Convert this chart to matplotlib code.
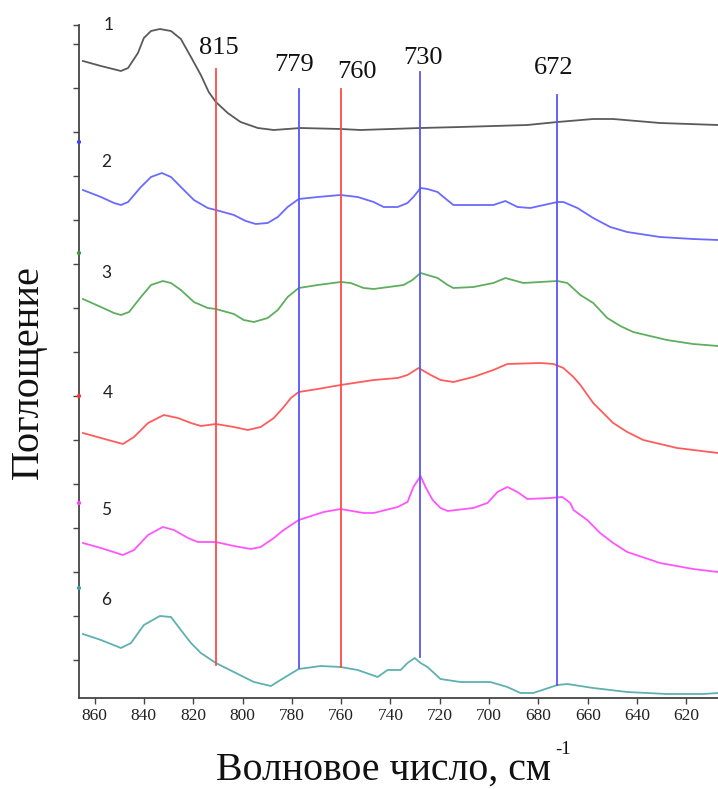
import matplotlib
matplotlib.use("Agg")
import matplotlib.pyplot as plt
import numpy as np

# ---------------- data ----------------
# wavenumber (cm-1) / offset absorbance (a.u.)
w1 = [864.7, 857.4, 849.3, 846.4, 842.4, 840.0, 837.1, 833.5, 829.0, 825.0, 820.9, 816.9,
      813.7, 810.8, 806.0, 800.8, 793.8, 787.3, 776.4, 760.2, 752.1, 727.8, 711.7, 684.5,
      672.3, 657.8, 649.7, 630.7, 607.2]
a1 = [6.37, 6.32, 6.27, 6.30, 6.45, 6.60, 6.67, 6.69, 6.67, 6.59, 6.41, 6.23,
      6.06, 5.96, 5.85, 5.76, 5.70, 5.68, 5.70, 5.69, 5.68, 5.70, 5.71, 5.73,
      5.76, 5.79, 5.79, 5.75, 5.73]

w2 = [864.7, 857.4, 852.1, 849.3, 846.4, 841.2, 837.1, 832.7, 829.0, 825.0, 819.7, 814.1,
      810.8, 803.5, 798.7, 794.6, 789.8, 785.7, 781.7, 777.2, 769.5, 760.2, 753.3, 746.8,
      742.8, 737.1, 733.1, 730.7, 727.8, 725.0, 720.9, 718.5, 714.5, 698.3, 693.4, 688.5,
      683.3, 672.3, 669.9, 664.2, 657.8, 650.9, 644.0, 630.7, 617.3, 607.2]
a2 = [5.08, 5.01, 4.95, 4.93, 4.96, 5.11, 5.21, 5.25, 5.21, 5.11, 4.98, 4.90,
      4.88, 4.83, 4.77, 4.74, 4.75, 4.81, 4.91, 4.99, 5.01, 5.03, 5.01, 4.96,
      4.91, 4.91, 4.95, 5.01, 5.10, 5.09, 5.06, 5.01, 4.93, 4.93, 4.97, 4.91,
      4.90, 4.96, 4.96, 4.90, 4.80, 4.71, 4.66, 4.61, 4.59, 4.58]

w3 = [864.7, 857.4, 852.1, 849.3, 846.0, 841.2, 837.1, 832.3, 829.0, 825.0, 819.7, 814.1,
      810.8, 803.5, 799.5, 795.4, 789.8, 785.7, 781.7, 777.2, 769.5, 760.2, 756.1, 750.9,
      746.8, 734.7, 731.1, 727.8, 720.9, 716.8, 714.5, 706.4, 698.3, 693.4, 686.1, 672.3,
      668.3, 663.0, 657.8, 652.1, 646.8, 641.6, 627.9, 617.3, 607.2]
a3 = [3.99, 3.91, 3.85, 3.83, 3.86, 4.01, 4.13, 4.17, 4.15, 4.08, 3.96, 3.90,
      3.89, 3.84, 3.78, 3.76, 3.80, 3.88, 4.01, 4.10, 4.13, 4.16, 4.15, 4.10,
      4.09, 4.13, 4.18, 4.25, 4.20, 4.13, 4.10, 4.11, 4.15, 4.20, 4.15, 4.17,
      4.15, 4.03, 3.95, 3.80, 3.72, 3.66, 3.58, 3.54, 3.52]

w4 = [864.7, 857.4, 848.5, 844.0, 838.3, 831.9, 826.2, 820.9, 816.9, 810.8, 803.5, 797.9,
      792.6, 787.3, 783.3, 780.4, 777.2, 769.5, 760.2, 746.8, 737.1, 733.1, 728.6, 723.7,
      719.7, 714.5, 706.4, 698.3, 692.6, 679.2, 673.9, 669.9, 665.8, 663.0, 657.8, 649.7,
      644.0, 637.5, 623.8, 607.2]
a4 = [2.65, 2.60, 2.54, 2.61, 2.75, 2.83, 2.80, 2.75, 2.72, 2.74, 2.71, 2.68,
      2.71, 2.80, 2.91, 3.00, 3.06, 3.09, 3.13, 3.18, 3.20, 3.23, 3.30, 3.23,
      3.18, 3.16, 3.21, 3.28, 3.34, 3.35, 3.34, 3.30, 3.21, 3.13, 2.95, 2.75,
      2.66, 2.58, 2.50, 2.45]

w5 = [864.7, 857.4, 848.5, 844.0, 838.3, 832.3, 827.8, 822.1, 818.1, 810.8, 803.5, 796.7,
      792.6, 787.3, 783.3, 777.2, 767.1, 760.2, 750.9, 746.8, 737.1, 733.1, 730.7, 727.8,
      725.8, 722.9, 719.7, 716.8, 706.4, 700.7, 696.6, 692.6, 688.5, 684.5, 675.2, 670.3,
      667.1, 665.8, 660.2, 655.0, 649.7, 644.0, 630.7, 617.3, 607.2]
a5 = [1.55, 1.50, 1.43, 1.48, 1.63, 1.71, 1.68, 1.60, 1.56, 1.56, 1.52, 1.49,
      1.51, 1.60, 1.68, 1.78, 1.86, 1.89, 1.85, 1.85, 1.91, 1.96, 2.11, 2.22,
      2.11, 1.98, 1.90, 1.87, 1.90, 1.95, 2.06, 2.11, 2.06, 1.99, 2.00, 2.01,
      1.95, 1.88, 1.78, 1.65, 1.55, 1.46, 1.35, 1.29, 1.26]

w6 = [864.7, 857.4, 849.3, 845.2, 840.0, 833.5, 829.0, 825.0, 820.9, 816.9, 810.8, 803.5,
      795.4, 788.5, 783.3, 777.2, 768.3, 760.2, 753.3, 745.2, 741.2, 735.9, 733.1, 730.2,
      727.8, 725.0, 719.7, 711.7, 699.5, 692.6, 687.3, 682.1, 672.3, 668.3, 657.8, 644.0,
      627.9, 613.2, 607.2]
a6 = [0.64, 0.58, 0.50, 0.55, 0.73, 0.82, 0.81, 0.68, 0.55, 0.45, 0.35, 0.26,
      0.16, 0.12, 0.20, 0.29, 0.32, 0.31, 0.28, 0.21, 0.28, 0.28, 0.35, 0.40,
      0.35, 0.31, 0.19, 0.16, 0.16, 0.11, 0.05, 0.05, 0.13, 0.14, 0.10, 0.06,
      0.04, 0.04, 0.05]

curve_names = ["1", "2", "3", "4", "5", "6"]
curve_colors = ["#5a5a5a", "#6a6aff", "#5fae5f", "#ff5c5c", "#ff55ff", "#5fb0b0"]
name_pos_w = [854.1, 855.3, 855.3, 854.5, 855.3, 855.3]
name_pos_a = [6.73, 5.36, 4.25, 3.05, 1.88, 0.98]

# marker lines
band_labels = ["815", "779", "760", "730", "672"]
band_pos = [810.8, 777.2, 760.2, 728.0, 672.5]
band_top = [6.29, 6.09, 6.09, 6.26, 6.03]
band_bottom = [0.33, 0.30, 0.31, 0.41, 0.13]
band_colors = ["#ff4a4a", "#5656ff", "#ff4a4a", "#5656ff", "#5656ff"]
band_label_w = [809.6, 779.2, 753.7, 727.0, 674.0]
band_label_a = [6.50, 6.33, 6.26, 6.40, 6.30]

dot_a = [5.56, 4.45, 3.02, 1.95, 1.10]
dot_colors = ["#4040ff", "#3a9a3a", "#ff3030", "#ff40ff", "#40a0a0"]

x_ticks = [860, 840, 820, 800, 780, 760, 740, 720, 700, 680, 660, 640, 620]

# ---------------- plot ----------------
fig = plt.figure(figsize=(7.18, 7.89), dpi=100)
ax = fig.add_axes([79 / 718, 91 / 789, 639 / 718, 673 / 789])

xs = [w1, w2, w3, w4, w5, w6]
ys = [a1, a2, a3, a4, a5, a6]
for x, y, c in zip(xs, ys, curve_colors):
    ax.plot(x, y, color=c, lw=1.3, solid_joinstyle="round")

for p, t, b, c in zip(band_pos, band_top, band_bottom, band_colors):
    ax.plot([p, p], [b, t], color=c, lw=1.3)

for lab, xw, ya in zip(band_labels, band_label_w, band_label_a):
    ax.text(xw, ya, lab, ha="center", va="center", fontsize=19,
            family="Liberation Serif", color="#111111")

for n, xw, ya in zip(curve_names, name_pos_w, name_pos_a):
    ax.text(xw, ya, n, ha="center", va="center", fontsize=12.5,
            family="Lato", color="#222222", clip_on=False)

ax.scatter([866.3] * len(dot_a), dot_a, s=4, c=dot_colors, clip_on=False, zorder=5)

ax.set_xlim(866.3, 607.2)
ax.set_ylim(0, 6.73)
ax.set_xticks(x_ticks)
ax.set_xticklabels([str(v) for v in x_ticks], family="Liberation Serif", fontsize=12.5,
                   color="#222222")
yt = list(np.arange(0.38, 6.6, 0.44)) + [6.73]
ax.set_yticks(yt)
ax.set_yticklabels([])
ax.tick_params(axis="both", direction="out", length=4, width=1.0, color="#444444")
ax.tick_params(axis="x", pad=3)

for s in ["top", "right"]:
    ax.spines[s].set_visible(False)
for s in ["left", "bottom"]:
    ax.spines[s].set_color("#444444")
    ax.spines[s].set_linewidth(1.3)

fig.text(384 / 718, 1 - 770 / 789, "Волновое число, см", ha="center", va="center",
         fontsize=28.7, family="Liberation Serif", color="#111111")
fig.text(563 / 718, 1 - 749 / 789, "-1", ha="center", va="center",
         fontsize=13.5, family="Liberation Serif", color="#111111")
fig.text(28 / 718, 1 - 372 / 789, "Поглощение", ha="center", va="center",
         rotation=90, fontsize=29, family="Liberation Serif", color="#111111")

fig.savefig("out.png", dpi=100)
